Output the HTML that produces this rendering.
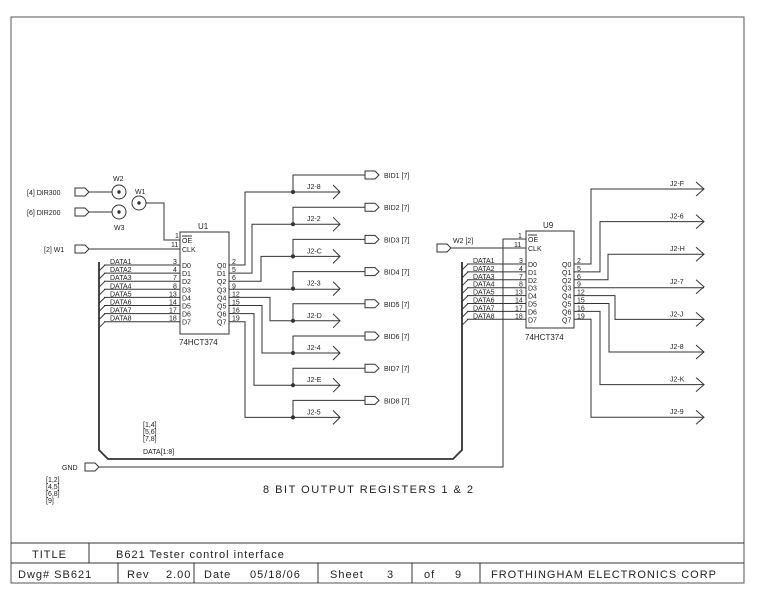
<!DOCTYPE html>
<html><head><meta charset="utf-8"><style>
html,body{margin:0;padding:0;background:#fff}
svg{display:block}
text{font-family:"Liberation Sans",sans-serif;fill:#222}
.s{font-size:7px}
.m{font-size:8px}
</style></head><body>
<svg width="772" height="605" viewBox="0 0 772 605" xmlns="http://www.w3.org/2000/svg" stroke="#333" stroke-width="1" fill="none">
<rect x="11" y="17" width="733" height="566" stroke="#555"/>
<line x1="11" y1="543" x2="744" y2="543"/>
<line x1="11" y1="563" x2="744" y2="563"/>
<line x1="89" y1="543" x2="89" y2="563"/>
<line x1="118" y1="563" x2="118" y2="583"/>
<line x1="194" y1="563" x2="194" y2="583"/>
<line x1="318" y1="563" x2="318" y2="583"/>
<line x1="412" y1="563" x2="412" y2="583"/>
<line x1="480" y1="563" x2="480" y2="583"/>
<g stroke="none" style="font-size:11px;letter-spacing:1px">
<text x="32" y="558">TITLE</text>
<text x="116" y="558">B621 Tester control interface</text>
<text x="18" y="578">Dwg# SB621</text>
<text x="127" y="578">Rev</text><text x="166" y="578">2.00</text>
<text x="204" y="578">Date</text><text x="250" y="578">05/18/06</text>
<text x="330" y="578">Sheet</text><text x="387" y="578">3</text>
<text x="424" y="578">of</text><text x="455" y="578">9</text>
<text x="491" y="578">FROTHINGHAM ELECTRONICS CORP</text>
<text x="263" y="493" style="font-size:11px;letter-spacing:1.5px">8 BIT OUTPUT REGISTERS 1 &amp; 2</text>
</g>

<g stroke="none" class="s">
<text x="27" y="195">[4] DIR300</text>
<text x="27" y="215">[6] DIR200</text>
<text x="44" y="252">[2] W1</text>
<text x="113" y="181">W2</text>
<text x="114" y="230">W3</text>
<text x="135" y="194">W1</text>
</g>
<path d="M75 188h10l4 4-4 4h-10z M75 208h10l4 4-4 4h-10z M75 245h10l4 4-4 4h-10z"/>
<line x1="89" y1="192" x2="112" y2="192"/>
<line x1="89" y1="212" x2="112" y2="212"/>
<circle cx="119" cy="192" r="7"/><circle cx="119" cy="192" r="1.2" fill="#333"/>
<circle cx="119" cy="212" r="7"/><circle cx="119" cy="212" r="1.2" fill="#333"/>
<circle cx="139" cy="203" r="7"/><circle cx="139" cy="203" r="1.2" fill="#333"/>
<polyline points="146,203 164,203 164,240 180,240"/>
<line x1="89" y1="249" x2="180" y2="249"/>

<rect x="180" y="232" width="49" height="102"/>
<g stroke="none" class="s">
<text x="198" y="229" class="m">U1</text>
<text x="182" y="243">OE</text><text x="182" y="252">CLK</text>
<text x="175" y="238">1</text><text x="171" y="247">11</text>
<text x="179" y="345" class="m">74HCT374</text>
</g>
<line x1="182" y1="236" x2="192" y2="236"/>

<rect x="526" y="231" width="48" height="97"/>
<g stroke="none" class="s">
<text x="543" y="228" class="m">U9</text>
<text x="528" y="242">OE</text><text x="528" y="251">CLK</text>
<text x="518" y="238">1</text><text x="514" y="247">11</text>
<text x="525" y="340" class="m">74HCT374</text>
<text x="453" y="243">W2 [2]</text>
</g>
<line x1="528" y1="235" x2="537" y2="235"/>
<path d="M437 244h10l4 4-4 4h-10z"/>
<line x1="451" y1="248" x2="526" y2="248"/>

<path d="M99 262V450l9 9H453l9-9V262" stroke-width="1.8"/>
<path d="M85 463h10l4 4-4 4h-10z"/>
<polyline points="99,467 503,467 503,239 526,239"/>
<g stroke="none" class="s">
<text x="62" y="470">GND</text>
<text x="46" y="482">[1,2]</text><text x="46" y="489">[4,5]</text><text x="46" y="496">[6,8]</text><text x="46" y="503">[9]</text>
<text x="143" y="427">[1,4]</text><text x="143" y="434">[5,6]</text><text x="143" y="441">[7,8]</text>
<text x="143" y="454">DATA[1:8]</text>
</g>

<script>
const NS="http://www.w3.org/2000/svg";
const svg=document.querySelector('svg');
function el(t,a,txt){const e=document.createElementNS(NS,t);for(const k in a)e.setAttribute(k,a[k]);if(txt!==undefined){e.textContent=txt;e.setAttribute('stroke','none');}svg.appendChild(e);return e;}
const pn=[3,4,7,8,13,14,17,18], qn=[2,5,6,9,12,15,16,19];
function chip(bx,bw,y0,busx,step){
 for(let i=0;i<8;i++){const y=y0+i*step;
  el('line',{x1:busx+5,y1:y,x2:bx,y2:y});
  el('line',{x1:busx,y1:y+6,x2:busx+6,y2:y});
  el('text',{x:busx+11,y:y-1,class:'s'},'DATA'+(i+1));
  el('text',{x:bx-11+(pn[i]<10?4:0),y:y-1,class:'s'},pn[i]);
  el('text',{x:bx+2,y:y+3,class:'s'},'D'+i);
  el('text',{x:bx+bw-12,y:y+3,class:'s'},(i==1&&bx<300?'D':'Q')+i);
  el('text',{x:bx+bw+3,y:y-1,class:'s'},qn[i]);
 }
}
chip(180,49,265,99,8.1);
chip(526,48,264,462,7.9);
const vx=[245,252,261,null,270,262,254,245];
const lab1=['J2-8','J2-2','J2-C','J2-3','J2-D','J2-4','J2-E','J2-5'];
for(let i=0;i<8;i++){const qy=265+i*8.1, jy=192+i*32.2;
 if(vx[i]===null){el('line',{x1:229,y1:qy,x2:340,y2:qy});}
 else el('polyline',{points:`229,${qy} ${vx[i]},${qy} ${vx[i]},${jy} 340,${jy}`});
 el('polyline',{points:`333,${jy-7} 340,${jy} 333,${jy+7}`});
 el('circle',{cx:293,cy:jy,r:1.6,fill:'#333'});
 const by=jy-17;
 el('polyline',{points:`293,${jy} 293,${by} 365,${by}`});
 el('path',{d:`M365 ${by-4}h10l4 4-4 4h-10z`});
 el('text',{x:307,y:jy-3,class:'s'},lab1[i]);
 el('text',{x:384,y:by+3,class:'s'},'BID'+(i+1)+' [7]');
}
const vx2=[591,600,608,null,615,609,600,591];
const lab2=['J2-F','J2-6','J2-H','J2-7','J2-J','J2-8','J2-K','J2-9'];
for(let i=0;i<8;i++){const qy=264+i*7.9, jy=189+i*32.6;
 if(vx2[i]===null){el('line',{x1:574,y1:qy,x2:704,y2:qy});}
 else el('polyline',{points:`574,${qy} ${vx2[i]},${qy} ${vx2[i]},${jy} 704,${jy}`});
 el('polyline',{points:`696,${jy-7} 704,${jy} 696,${jy+7}`});
 el('text',{x:670,y:jy-3,class:'s'},lab2[i]);
}
</script>
</svg>
</body></html>
